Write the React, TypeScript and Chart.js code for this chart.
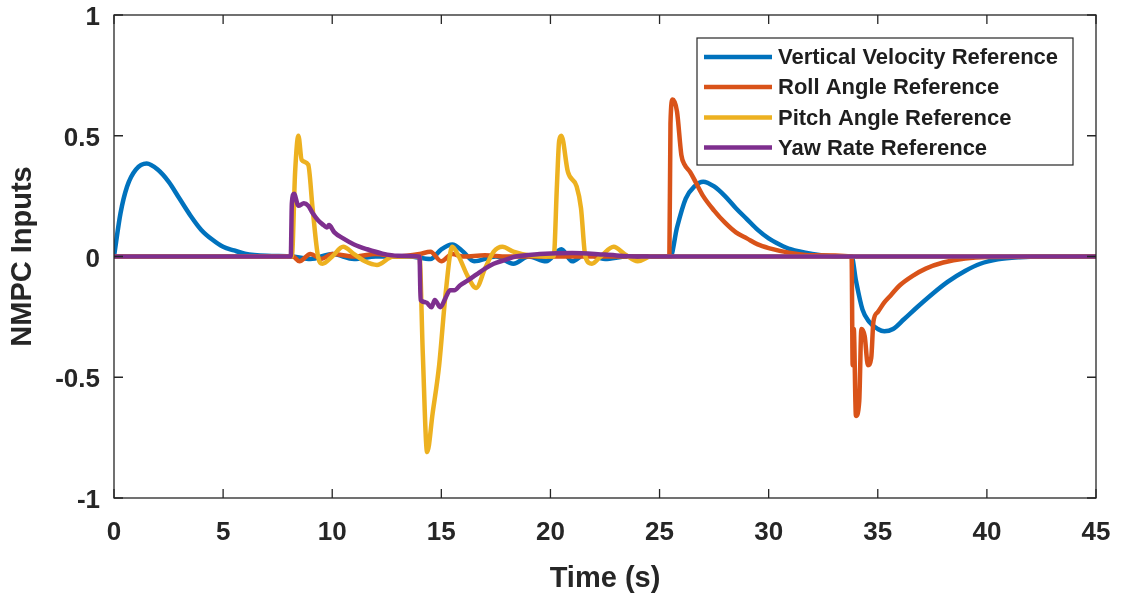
import React, { useEffect, useRef } from "react";
import { Chart, registerables } from "chart.js";

Chart.register(...registerables);

// ---- Data ----
const seriesNames = [
  "Vertical Velocity Reference",
  "Roll Angle Reference",
  "Pitch Angle Reference",
  "Yaw Rate Reference",
];
const seriesColors = ["#0072BD", "#D95319", "#EDB120", "#7E2F8E"];

const xTicks = [0, 5, 10, 15, 20, 25, 30, 35, 40, 45];
const yTicks = [-1, -0.5, 0, 0.5, 1];

const velT = [0, 0.3, 0.6, 1.0, 1.5, 2.0, 2.5, 3.0, 3.5, 4.0, 4.5, 5.0, 5.5, 6.0, 7.0, 8.2, 9.0, 10.0, 11.0, 12.0, 13.5, 14.5, 15.0, 15.5, 16.0, 16.5, 17.5, 18.3, 19.0, 19.8, 20.5, 21.0, 21.6, 22.5, 23.5, 25.0, 25.5, 25.8, 26.2, 26.6, 27.0, 27.5, 28.0, 28.5, 29.0, 29.5, 30.0, 30.5, 31.0, 32.0, 33.0, 33.8, 34.0, 34.3, 34.6, 35.0, 35.3, 35.7, 36.2, 36.8, 37.5, 38.2, 39.0, 39.7, 40.5, 41.5, 42.5, 45];
const velV = [0, 0.18, 0.29, 0.36, 0.385, 0.36, 0.31, 0.24, 0.17, 0.11, 0.07, 0.04, 0.025, 0.012, 0.003, 0, -0.01, 0.01, -0.01, 0, 0, -0.01, 0.03, 0.05, 0.02, -0.02, 0, -0.03, 0, -0.02, 0.03, -0.02, 0.01, -0.01, 0, 0, 0, 0.12, 0.24, 0.29, 0.31, 0.29, 0.25, 0.2, 0.155, 0.11, 0.075, 0.05, 0.03, 0.01, 0, 0, -0.1, -0.22, -0.27, -0.3, -0.31, -0.3, -0.26, -0.21, -0.155, -0.105, -0.06, -0.03, -0.012, -0.003, 0, 0];

const rollT = [0, 8.2, 8.5, 9.0, 9.5, 10.0, 11.0, 12.0, 13.0, 14.0, 14.5, 15.0, 15.5, 16.0, 17.0, 18.0, 20.0, 22.0, 25.45, 25.5, 25.6, 25.8, 26.0, 26.15, 26.4, 26.7, 27.0, 27.5, 28.0, 28.5, 29.0, 29.5, 30.0, 31.0, 32.0, 33.8, 33.85, 33.9, 34.0, 34.15, 34.25, 34.4, 34.55, 34.7, 34.8, 35.0, 35.3, 35.6, 36.0, 36.6, 37.2, 38.0, 39.0, 40.0, 45];
const rollV = [0, 0, -0.02, 0.01, -0.01, 0.01, 0, 0.01, 0, 0.01, 0.02, -0.02, 0.01, 0, 0.005, 0, 0, 0, 0, 0.55, 0.65, 0.6, 0.42, 0.38, 0.35, 0.3, 0.25, 0.19, 0.14, 0.1, 0.075, 0.05, 0.035, 0.015, 0.005, 0, -0.45, -0.3, -0.66, -0.6, -0.3, -0.33, -0.45, -0.42, -0.27, -0.23, -0.19, -0.16, -0.12, -0.08, -0.05, -0.025, -0.008, -0.002, 0];

const pitchT = [0, 8.15, 8.3, 8.45, 8.6, 8.9, 9.1, 9.35, 9.55, 10.0, 10.5, 11.0, 11.5, 12.05, 12.8, 13.5, 14.0, 14.15, 14.35, 14.6, 14.9, 15.2, 15.5, 15.8, 16.2, 16.6, 17.0, 17.4, 17.8, 18.3, 19.0, 20.15, 20.3, 20.4, 20.5, 20.8, 21.2, 21.4, 21.6, 21.9, 22.3, 22.9, 23.4, 24.0, 24.6, 25.5, 45];
const pitchV = [0, 0, 0.35, 0.5, 0.4, 0.38, 0.2, 0, -0.03, 0.0, 0.04, 0.01, -0.02, -0.035, 0, 0, 0, -0.4, -0.81, -0.65, -0.45, -0.15, 0.04, 0.0, -0.08, -0.13, -0.05, 0.02, 0.04, 0.02, 0.005, 0, 0.3, 0.48, 0.5, 0.35, 0.29, 0.2, 0, -0.03, 0, 0.04, 0.01, -0.02, 0, 0, 0];

const yawT = [0, 8.1, 8.15, 8.25, 8.45, 8.7, 8.9, 9.1, 9.35, 9.6, 9.75, 9.85, 10.1, 10.5, 11.0, 11.6, 12.3, 13.0, 14.0, 14.05, 14.3, 14.55, 14.7, 14.95, 15.2, 15.4, 15.6, 15.85, 16.2, 16.6, 17.0, 17.4, 17.9, 18.4, 19.5, 21.0, 22.5, 24.0, 45];
const yawV = [0, 0, 0.22, 0.26, 0.21, 0.22, 0.21, 0.18, 0.15, 0.13, 0.12, 0.13, 0.1, 0.075, 0.05, 0.03, 0.012, 0.003, 0, -0.18, -0.19, -0.21, -0.18, -0.21, -0.17, -0.14, -0.14, -0.12, -0.1, -0.075, -0.05, -0.03, -0.015, 0, 0.01, 0.015, 0.008, 0, 0];

const seriesT = [velT, rollT, pitchT, yawT];
const seriesV = [velV, rollV, pitchV, yawV];

const FONT = "'Liberation Sans', Arial, Helvetica, sans-serif";
const INK = "#262626";

const boxPlugin = {
  id: "matlabBox",
  afterDatasetsDraw(chart: any) {
    const { ctx, chartArea: a, scales } = chart;
    const xs = scales.x;
    const ys = scales.y;
    ctx.save();
    ctx.strokeStyle = INK;
    ctx.lineWidth = 1.3;
    ctx.strokeRect(a.left, a.top, a.right - a.left, a.bottom - a.top);
    const tl = 9;
    ctx.beginPath();
    xTicks.forEach((t) => {
      const px = xs.getPixelForValue(t);
      ctx.moveTo(px, a.bottom);
      ctx.lineTo(px, a.bottom - tl);
      ctx.moveTo(px, a.top);
      ctx.lineTo(px, a.top + tl);
    });
    yTicks.forEach((t) => {
      const py = ys.getPixelForValue(t);
      ctx.moveTo(a.left, py);
      ctx.lineTo(a.left + tl, py);
      ctx.moveTo(a.right, py);
      ctx.lineTo(a.right - tl, py);
    });
    ctx.stroke();

    // legend
    const lx = 697, ly = 38, lw = 376, lh = 127;
    ctx.fillStyle = "#ffffff";
    ctx.fillRect(lx, ly, lw, lh);
    ctx.strokeStyle = INK;
    ctx.lineWidth = 1.2;
    ctx.strokeRect(lx, ly, lw, lh);
    const rows = [57, 87, 117.5, 147.5];
    seriesNames.forEach((name, i) => {
      ctx.strokeStyle = seriesColors[i];
      ctx.lineWidth = 4.5;
      ctx.beginPath();
      ctx.moveTo(704, rows[i]);
      ctx.lineTo(772, rows[i]);
      ctx.stroke();
      ctx.fillStyle = "#1e1e1e";
      ctx.font = `bold 22px ${FONT}`;
      ctx.textBaseline = "middle";
      ctx.textAlign = "left";
      ctx.fillText(name, 778, rows[i] + 1);
    });
    ctx.restore();
  },
};

export default function App() {
  const ref = useRef<HTMLCanvasElement>(null);
  useEffect(() => {
    if (!ref.current) return;
    const datasets = seriesNames.map((name, i) => ({
      label: name,
      data: seriesT[i].map((t, k) => ({ x: t, y: seriesV[i][k] })),
      borderColor: seriesColors[i],
      backgroundColor: seriesColors[i],
      borderWidth: 4.5,
      pointRadius: 0,
      cubicInterpolationMode: "monotone",
      fill: false,
      order: 4 - i,
    }));
    const chart = new Chart(ref.current, {
      type: "line",
      data: { datasets },
      plugins: [boxPlugin],
      options: {
        animation: false,
        responsive: false,
        devicePixelRatio: 1,
        layout: { padding: { top: 15, right: 26, left: 0, bottom: 0 } },
        plugins: { legend: { display: false }, tooltip: { enabled: false } },
        scales: {
          x: {
            type: "linear",
            min: 0,
            max: 45,
            afterFit: (s: any) => {
              s.height = 98;
              s.paddingLeft = 0;
              s.paddingRight = 0;
            },
            afterBuildTicks: (s: any) => {
              s.ticks = xTicks.map((v) => ({ value: v }));
            },
            grid: { display: false, drawTicks: false },
            border: { display: false },
            ticks: {
              padding: 19,
              color: INK,
              font: { family: FONT, size: 26, weight: "bold" },
              maxRotation: 0,
              callback: (v: any) => String(v),
            },
            title: {
              display: true,
              text: "Time (s)",
              color: INK,
              font: { family: FONT, size: 29, weight: "bold" },
              padding: { top: 8, bottom: 0 },
            },
          },
          y: {
            type: "linear",
            min: -1,
            max: 1,
            afterFit: (s: any) => {
              s.width = 114;
              s.paddingTop = 0;
              s.paddingBottom = 0;
            },
            afterBuildTicks: (s: any) => {
              s.ticks = yTicks.map((v) => ({ value: v }));
            },
            grid: { display: false, drawTicks: false },
            border: { display: false },
            ticks: {
              padding: 14,
              labelOffset: 3,
              color: INK,
              font: { family: FONT, size: 26, weight: "bold" },
              callback: (v: any) => String(v),
            },
            title: {
              display: true,
              text: "NMPC Inputs",
              color: INK,
              font: { family: FONT, size: 29, weight: "bold" },
              padding: { top: 6, bottom: 0 },
            },
          },
        },
      },
    } as any);
    return () => chart.destroy();
  }, []);
  return (
    <div style={{ position: "fixed", left: 0, top: 0, width: 1122, height: 596, background: "#fff" }}>
      <canvas ref={ref} width={1122} height={596} />
    </div>
  );
}
